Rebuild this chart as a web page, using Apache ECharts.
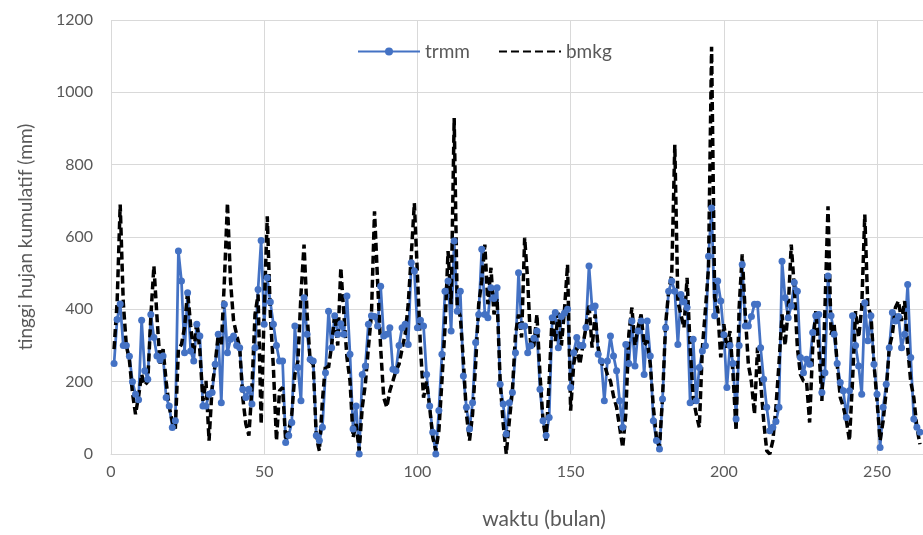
<!DOCTYPE html>
<html>
<head>
<meta charset="utf-8">
<script src="https://cdn.jsdelivr.net/npm/echarts@6/dist/echarts.min.js"></script>
<style>html,body{margin:0;padding:0;background:#fff}#c{width:923px;height:535px}</style>
</head>
<body>
<div id="c"></div>
<script>
// monthly cumulative rainfall (mm), month 1..264
const trmm = [
250,372,415,300,300,270,200,165,150,370,230,207,
386,322,271,260,271,156,133,73,92,561,478,280,
446,285,257,359,326,133,133,165,170,248,331,142,
414,280,317,326,300,294,179,156,179,138,294,455,
590,359,487,420,359,300,257,257,32,51,87,354,
239,147,432,331,262,257,51,37,74,225,395,294,
382,331,360,331,437,276,69,133,0,220,243,359,
382,380,354,464,326,331,349,234,230,300,349,359,
303,529,506,349,370,354,220,133,60,0,120,276,
450,478,340,589,395,450,216,129,69,142,308,386,
566,386,377,460,430,460,193,138,55,142,170,280,
501,354,354,280,299,320,340,179,92,51,101,377,
391,294,380,390,400,184,280,322,300,300,350,520,
405,409,276,257,147,257,326,271,230,147,74,303,
250,368,243,340,368,220,368,271,92,37,14,152,
349,450,478,450,303,441,420,405,142,317,147,239,
285,299,547,680,382,478,423,330,184,300,250,97,
300,524,354,354,380,414,414,294,207,129,64,74,
90,129,533,432,377,409,474,450,267,225,262,248,
336,382,386,170,225,492,382,331,250,198,175,101,
175,382,300,243,165,418,313,382,248,165,18,129,
193,294,391,368,380,294,331,469,267,97,74,60
];
const bmkg = [
290,420,690,420,300,260,170,110,160,220,190,200,
380,520,380,250,290,200,130,90,70,290,303,350,
450,354,276,368,285,147,202,37,184,248,331,300,
478,694,478,368,330,294,156,83,51,184,386,441,
83,400,657,386,239,37,175,184,37,64,110,220,
257,441,579,386,257,248,46,9,147,248,239,300,
386,300,515,386,267,202,46,83,9,129,193,294,
386,671,478,294,156,129,175,202,230,248,290,331,
414,550,694,497,294,156,200,129,46,9,64,202,
349,561,414,929,405,380,257,110,37,110,248,414,
480,579,414,515,386,430,202,83,0,92,175,331,
386,322,598,478,294,300,386,220,92,37,202,386,
312,391,300,400,524,120,248,294,248,300,350,414,
294,386,294,250,248,220,202,160,129,74,18,110,
331,405,300,350,386,300,313,248,129,46,18,156,
359,450,497,855,420,386,349,487,294,156,110,74,
294,400,515,1126,432,400,267,359,294,340,220,64,
405,552,386,248,200,110,294,202,92,9,0,37,
129,250,386,300,400,579,460,294,220,202,200,87,
294,395,294,147,400,685,330,359,248,156,130,92,
37,202,395,322,405,662,405,386,250,147,37,92,
175,294,331,405,423,368,423,294,200,156,74,27
];
const seriesNames = ['trmm', 'bmkg'];
const yTicks = [0, 200, 400, 600, 800, 1000, 1200];
const xTicks = [0, 50, 100, 150, 200, 250];

const toXY = arr => arr.map((v, k) => [k + 1, v]);
const chart = echarts.init(document.getElementById('c'), null, {renderer: 'canvas'});
const FONT = 'Lato';
const GRAY = '#595959';
chart.setOption({
  animation: false,
  textStyle: {fontFamily: FONT},
  grid: {left: 111, right: 0, top: 20, bottom: 80, containLabel: false},
  legend: {
    left: 352, top: 37,
    itemWidth: 62, itemHeight: 10, itemGap: 28,
    textStyle: {fontFamily: FONT, fontSize: 19, color: GRAY},
    data: [
      {name: seriesNames[0]},
      {name: seriesNames[1], itemStyle: {color: 'rgba(0,0,0,0)', borderWidth: 0}}
    ]
  },
  xAxis: {
    type: 'value', min: 0, max: 265, interval: 50,
    name: 'waktu (bulan)', nameLocation: 'middle', nameGap: 55,
    nameTextStyle: {fontFamily: FONT, fontSize: 21, color: GRAY, padding: [0, 0, 0, 54]},
    axisLine: {show: true, lineStyle: {color: '#d9d9d9', width: 1}},
    axisTick: {show: false},
    axisLabel: {color: GRAY, fontSize: 16, margin: 10, showMaxLabel: false,
      formatter: v => xTicks.includes(v) ? String(v) : ''},
    splitLine: {show: true, lineStyle: {color: '#d9d9d9', width: 1}}
  },
  yAxis: {
    type: 'value', min: 0, max: 1200, interval: 200,
    name: 'tinggi hujan kumulatif (mm)', nameLocation: 'middle', nameGap: 76,
    nameTextStyle: {fontFamily: FONT, fontSize: 19, color: GRAY},
    axisLine: {show: false},
    axisTick: {show: false},
    axisLabel: {color: GRAY, fontSize: 16, margin: 18,
      formatter: v => yTicks.includes(v) ? String(v) : ''},
    splitLine: {show: true, lineStyle: {color: '#d9d9d9', width: 1}}
  },
  series: [
    {
      name: seriesNames[0], type: 'line', data: toXY(trmm),
      symbol: 'circle', symbolSize: 7, showSymbol: true,
      lineStyle: {color: '#4472C4', width: 2.75},
      itemStyle: {color: '#4472C4'}
    },
    {
      name: seriesNames[1], type: 'line', data: toXY(bmkg),
      symbol: 'none',
      lineStyle: {color: '#000', width: 3.5, type: [8, 4]},
      itemStyle: {color: '#000'}
    }
  ]
});
</script>
</body>
</html>
